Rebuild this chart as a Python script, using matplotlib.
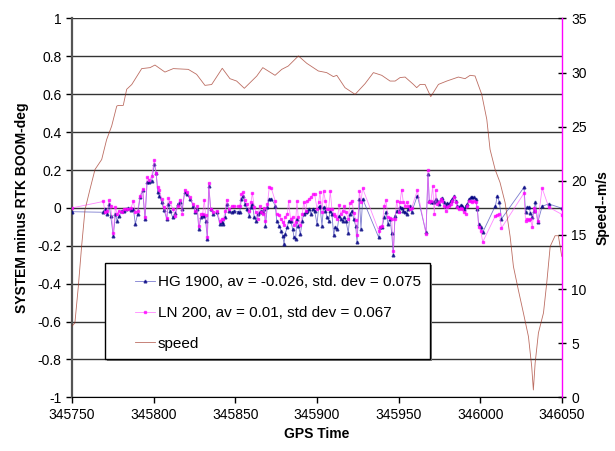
import matplotlib
matplotlib.use("Agg")
import matplotlib.pyplot as plt
from matplotlib.patches import Rectangle

plt.rcParams['font.family'] = ['Liberation Sans', 'DejaVu Sans']
plt.rcParams['font.size'] = 10

# boom heading error vs RTK, sampled at the same GPS times for both units
gps_time = [
    345750.0, 345769.2, 345770.2, 345771.7, 345772.7, 345773.7, 345775.3, 345776.6,
    345777.6, 345779.0, 345780.4, 345781.9, 345783.1, 345784.5, 345786.0, 345787.6,
    345788.8, 345790.2, 345791.7, 345793.3, 345794.7, 345796.0, 345797.4, 345798.8,
    345800.4, 345801.5, 345802.5, 345803.5, 345804.9, 345806.4, 345808.0, 345809.0,
    345810.0, 345811.7, 345813.3, 345814.7, 345816.1, 345817.5, 345819.0, 345820.2,
    345822.2, 345824.3, 345825.5, 345826.7, 345827.6, 345829.0, 345830.0, 345831.0,
    345831.8, 345832.9, 345833.7, 345834.9, 345836.5, 345838.6, 345840.6, 345841.6,
    345842.7, 345843.7, 345844.7, 345846.1, 345847.8, 345849.4, 345851.4, 345852.7,
    345853.7, 345854.7, 345855.9, 345856.9, 345858.6, 345859.6, 345860.4, 345861.6,
    345862.7, 345863.7, 345864.9, 345865.9, 345866.7, 345867.8, 345868.4, 345869.6,
    345870.8, 345872.0, 345874.5, 345875.3, 345876.7, 345878.0, 345879.0, 345879.8,
    345880.4, 345881.8, 345882.6, 345883.8, 345885.1, 345885.9, 345886.9, 345887.7,
    345888.5, 345889.8, 345891.0, 345891.8, 345893.0, 345894.0, 345895.3, 345896.3,
    345897.5, 345898.5, 345900.0, 345901.0, 345901.8, 345903.0, 345904.0, 345905.1,
    345906.1, 345907.1, 345908.1, 345909.1, 345910.2, 345911.2, 345912.4, 345913.6,
    345914.4, 345915.7, 345916.7, 345917.7, 345919.1, 345920.2, 345921.4, 345922.4,
    345923.6, 345924.5, 345925.9, 345926.9, 345927.9, 345937.7, 345938.7, 345939.8,
    345941.2, 345942.2, 345943.4, 345944.7, 345945.7, 345946.7, 345947.7, 345948.7,
    345950.0, 345950.8, 345951.8, 345952.8, 345953.8, 345954.9, 345955.9, 345956.9,
    345957.9, 345961.4, 345966.7, 345967.9, 345968.7, 345969.8, 345970.8, 345971.8,
    345972.6, 345973.6, 345974.7, 345975.7, 345976.7, 345977.7, 345978.7, 345979.8,
    345980.8, 345981.8, 345982.8, 345983.9, 345984.9, 345985.9, 345986.9, 345987.9,
    345989.0, 345990.0, 345991.0, 345992.0, 345993.0, 345994.1, 345995.1, 345996.1,
    345997.1, 345998.1, 345998.9, 346000.2, 346001.4, 346009.2, 346010.4, 346011.6,
    346012.9, 346026.7, 346027.6, 346028.6, 346029.8, 346030.6, 346031.8, 346032.7,
    346033.7, 346035.1, 346037.8, 346041.8, 346050.0,
]

hg1900 = [
    -0.020, -0.023, -0.005, -0.032, 0.021, -0.041, -0.150, -0.032,
    -0.067, -0.041, -0.014, -0.014, -0.005, -0.002, -0.009, -0.005,
    -0.085, -0.032, 0.056, 0.092, -0.058, 0.135, 0.135, 0.144,
    0.233, 0.185, 0.083, 0.065, 0.030, -0.011, -0.058, 0.021,
    -0.014, -0.050, -0.028, 0.021, 0.030, -0.005, 0.083, 0.074,
    0.048, 0.012, -0.023, -0.005, -0.111, -0.050, -0.040, -0.041,
    -0.067, -0.164, 0.118, -0.005, -0.032, -0.023, -0.085, -0.075,
    -0.085, -0.050, 0.021, -0.014, -0.023, -0.015, -0.020, -0.023,
    0.048, 0.065, 0.021, -0.005, -0.041, 0.005, 0.021, -0.050,
    -0.067, -0.032, -0.023, -0.014, -0.020, -0.005, -0.093, 0.004,
    0.048, 0.048, 0.012, -0.067, -0.093, -0.120, -0.150, -0.190,
    -0.138, -0.102, -0.067, -0.067, -0.111, -0.155, -0.164, -0.058,
    -0.093, -0.138, -0.067, -0.032, -0.023, -0.014, -0.005, -0.032,
    -0.005, -0.014, -0.085, 0.004, 0.012, -0.093, 0.004, -0.014,
    -0.050, -0.067, -0.014, -0.032, -0.143, -0.102, -0.111, -0.041,
    -0.058, -0.067, -0.050, -0.067, -0.132, -0.032, -0.014, -0.058,
    -0.093, -0.180, 0.048, -0.111, 0.048, -0.155, -0.102, -0.102,
    -0.050, -0.020, -0.085, -0.058, -0.132, -0.249, -0.041, -0.014,
    -0.014, 0.004, -0.002, -0.014, -0.023, -0.032, -0.005, 0.012,
    -0.023, 0.065, -0.129, 0.180, 0.039, 0.030, 0.030, 0.030,
    0.048, 0.039, 0.021, 0.048, 0.051, 0.030, 0.012, 0.026,
    0.021, 0.039, 0.048, 0.062, 0.039, 0.012, 0.004, 0.016,
    0.012, -0.005, 0.012, 0.021, 0.048, 0.056, 0.056, 0.056,
    0.048, -0.005, -0.085, -0.102, -0.129, 0.012, 0.065, 0.030,
    -0.058, 0.109, -0.023, 0.004, 0.004, -0.026, -0.050, -0.014,
    0.030, -0.076, 0.009, 0.021, -0.002,
]

ln200 = [
    0.000, 0.034, -0.023, -0.014, 0.042, 0.011, -0.134, 0.004,
    -0.032, -0.014, -0.023, -0.005, -0.005, -0.005, -0.002, 0.035,
    -0.023, -0.014, 0.065, 0.100, -0.050, 0.162, 0.145, 0.168,
    0.254, 0.185, 0.109, 0.092, 0.048, 0.004, -0.055, 0.053,
    0.030, -0.005, -0.045, 0.012, 0.044, -0.032, 0.097, 0.085,
    0.055, 0.020, -0.014, 0.012, -0.097, -0.030, -0.032, 0.044,
    -0.040, -0.152, 0.132, -0.005, -0.020, -0.015, -0.067, -0.058,
    -0.060, -0.018, 0.044, -0.005, 0.009, 0.009, 0.009, 0.009,
    0.074, 0.083, 0.040, 0.020, -0.014, 0.030, 0.079, 0.004,
    -0.023, -0.058, 0.012, -0.023, -0.032, 0.000, -0.067, 0.021,
    0.109, 0.104, 0.034, -0.032, -0.040, -0.058, -0.075, -0.090,
    -0.050, -0.032, 0.034, -0.058, -0.049, -0.090, -0.072, 0.034,
    -0.049, -0.090, -0.032, 0.030, -0.014, 0.035, 0.048, 0.056,
    0.071, 0.074, -0.005, 0.030, 0.083, -0.023, 0.087, 0.039,
    -0.005, -0.005, 0.087, -0.005, -0.032, -0.041, -0.058, 0.016,
    -0.032, -0.014, 0.009, -0.023, -0.058, 0.026, 0.039, -0.026,
    -0.062, -0.143, 0.087, 0.030, 0.104, -0.120, -0.102, -0.093,
    0.012, 0.040, -0.050, -0.055, -0.060, -0.226, -0.058, 0.034,
    -0.023, 0.030, 0.097, 0.030, 0.012, 0.030, 0.009, -0.005,
    0.000, 0.092, -0.138, 0.198, 0.030, 0.039, 0.115, -0.032,
    0.092, 0.021, 0.030, 0.048, 0.039, 0.012, -0.014, 0.004,
    0.012, 0.021, 0.039, 0.056, 0.030, 0.004, -0.005, -0.002,
    -0.005, -0.023, -0.032, 0.012, 0.034, 0.039, 0.030, 0.039,
    0.030, 0.004, -0.102, -0.120, -0.180, -0.041, -0.037, -0.032,
    -0.106, 0.078, -0.067, -0.058, -0.063, -0.058, -0.102, 0.000,
    -0.014, -0.071, 0.104, 0.004, -0.035,
]

# vehicle speed (m/s)
speed_time = [
    345749.8, 345751.8, 345753.9, 345755.9, 345758.0, 345761.0, 345764.1, 345768.2,
    345771.2, 345774.3, 345777.4, 345778.3, 345781.4, 345783.5, 345786.6, 345792.7,
    345797.8, 345800.8, 345806.9, 345812.0, 345821.2, 345826.3, 345831.4, 345835.5,
    345842.0, 345846.7, 345850.8, 345855.5, 345863.1, 345866.8, 345874.3, 345878.4,
    345882.4, 345888.6, 345893.7, 345900.8, 345905.9, 345910.0, 345912.1, 345917.1,
    345923.3, 345929.4, 345934.5, 345939.6, 345944.7, 345947.8, 345950.8, 345953.9,
    345959.0, 345961.0, 345963.1, 345966.1, 345969.6, 345974.3, 345979.4, 345986.5,
    345990.6, 345993.7, 345996.7, 346000.8, 346003.9, 346005.9, 346009.0, 346012.0,
    346015.1, 346018.2, 346020.2, 346023.2, 346026.3, 346029.4, 346031.4, 346032.4,
    346033.5, 346035.5, 346038.6, 346040.6, 346042.7, 346045.7, 346047.7, 346049.8,
]

speed = [
    6.54, 6.88, 10.24, 13.94, 17.34, 19.20, 21.05, 21.97,
    23.80, 25.06, 26.90, 26.97, 26.97, 28.46, 28.90, 30.37,
    30.46, 30.70, 30.05, 30.37, 30.30, 29.84, 28.82, 28.90,
    30.40, 29.44, 29.22, 28.55, 29.68, 30.46, 29.75, 30.30,
    30.61, 31.54, 30.86, 30.15, 30.00, 29.63, 29.75, 28.61,
    27.99, 28.98, 30.00, 29.75, 29.22, 29.22, 29.54, 29.59,
    28.91, 28.61, 28.91, 28.91, 27.78, 28.91, 29.22, 29.59,
    29.44, 29.75, 29.69, 27.99, 25.68, 22.90, 21.05, 19.85,
    17.99, 14.84, 12.09, 9.93, 7.80, 5.61, 2.83, 0.68,
    3.17, 5.95, 7.80, 10.58, 13.94, 14.93, 14.93, 13.02,
]

fig = plt.figure(figsize=(6.15, 4.51), dpi=100)
ax = fig.add_axes([0.117, 0.119, 0.797, 0.840])
ax2 = ax.twinx()

# error series on the left axis
hg_line, = ax.plot(gps_time, hg1900, color='#4444bb', lw=0.6, alpha=0.7,
                   marker='^', ms=2.0, mfc='#000080', mec='#000080', zorder=3)
ln_line, = ax.plot(gps_time, ln200, color='#ff55ff', lw=0.6, alpha=0.7,
                   marker='s', ms=1.9, mfc='#ff00ff', mec='#ff00ff', zorder=4)

ax.set_xlim(345750, 346050)
ax.set_ylim(-1, 1)
ax.set_xticks(range(345750, 346051, 50))
ax.set_yticks([-1, -0.8, -0.6, -0.4, -0.2, 0, 0.2, 0.4, 0.6, 0.8, 1])
ax.set_yticklabels(['-1', '-0.8', '-0.6', '-0.4', '-0.2', '0', '0.2', '0.4', '0.6', '0.8', '1'])
ax.grid(axis='y', color='#333333', lw=1.0)
ax.set_axisbelow(True)
ax.tick_params(axis='both', direction='out', length=4, width=1, labelsize=10)
ax.spines['left'].set_color('#555555')
ax.spines['left'].set_linewidth(1.6)
ax.spines['bottom'].set_color('black')
ax.spines['top'].set_visible(False)
ax.spines['right'].set_visible(False)
ax.set_xlabel('GPS Time', fontweight='bold', fontsize=10)
ax.set_ylabel('SYSTEM minus RTK BOOM-deg', fontweight='bold', fontsize=10, labelpad=6)

# speed on the right axis
sp_line, = ax2.plot(speed_time, speed, color='#a03020', lw=0.6, alpha=0.7, zorder=2)
ax2.set_ylim(0, 35)
ax2.set_yticks(range(0, 36, 5))
ax2.tick_params(axis='y', direction='inout', length=6, width=1, labelsize=10)
ax2.spines['right'].set_color('#ff00ff')
ax2.spines['right'].set_linewidth(1.0)
for side in ['top', 'left', 'bottom']:
    ax2.spines[side].set_visible(False)
ax2.set_ylabel('Speed--m/s', fontweight='bold', fontsize=10, labelpad=6)

# legend box with a thin shadow
bx0, by0 = (105 - 72) / 490, (397.3 - 359) / 379
bw, bh = (430 - 105) / 490, (359 - 263) / 379
ax2.add_patch(Rectangle((bx0 + 0.004, by0 - 0.005), bw, bh, transform=ax2.transAxes,
                        facecolor='#777777', edgecolor='none', zorder=9, clip_on=False))
ax2.add_patch(Rectangle((bx0, by0), bw, bh, transform=ax2.transAxes,
                        facecolor='white', edgecolor='black', lw=1.0, zorder=10, clip_on=False))

leg = ax2.legend([hg_line, ln_line, sp_line],
                 ['HG 1900, av = -0.026, std. dev = 0.075',
                  'LN 200, av = 0.01, std dev = 0.067',
                  'speed'],
                 loc='upper left', bbox_to_anchor=((135 - 72) / 490, (397.3 - 275) / 379),
                 frameon=False, borderpad=0, borderaxespad=0, fontsize=11,
                 handlelength=1.3, handletextpad=0.2, labelspacing=1.1)
leg.set_zorder(11)

fig.savefig('out.png', dpi=100)
